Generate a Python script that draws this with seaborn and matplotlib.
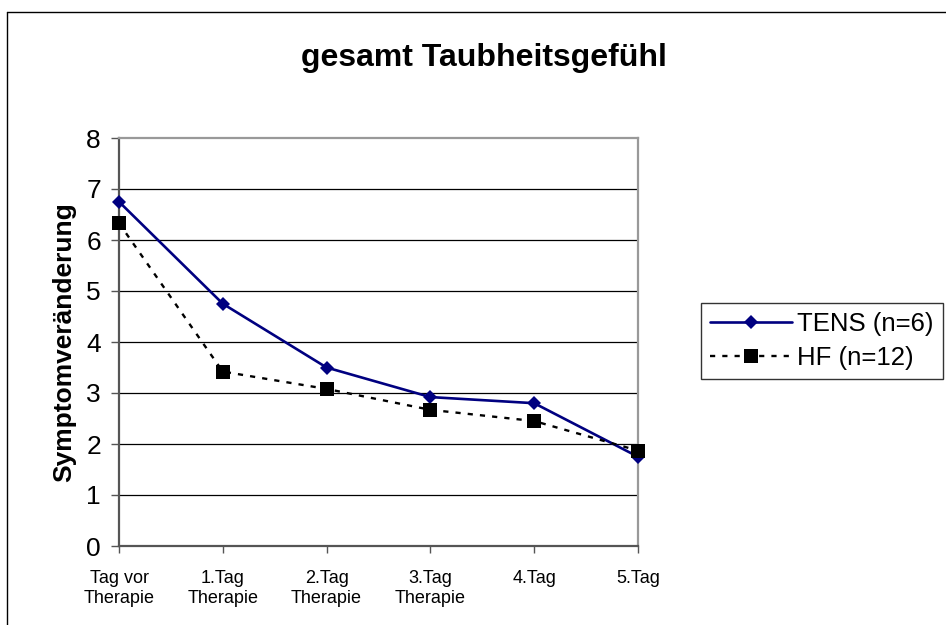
import matplotlib
matplotlib.use("Agg")
import matplotlib.pyplot as plt
import seaborn as sns
import pandas as pd
from matplotlib.lines import Line2D

# Data
categories = ["Tag vor\nTherapie", "1.Tag\nTherapie", "2.Tag\nTherapie",
              "3.Tag\nTherapie", "4.Tag", "5.Tag"]
tens_values = [6.75, 4.75, 3.5, 2.92, 2.8, 1.75]
hf_values = [6.33, 3.42, 3.08, 2.67, 2.45, 1.87]
y_ticks = [0, 1, 2, 3, 4, 5, 6, 7, 8]

sns.set_style("white")
plt.rcParams["font.family"] = ["Liberation Sans", "DejaVu Sans"]
plt.rcParams["text.color"] = "black"
plt.rcParams["axes.labelcolor"] = "black"
plt.rcParams["xtick.color"] = "black"
plt.rcParams["ytick.color"] = "black"

W, H = 946, 625
fig = plt.figure(figsize=(W / 100, H / 100), dpi=100)
ax = fig.add_axes([119 / W, 1 - 546 / H, (638 - 119) / W, (546 - 138) / H])

pos = list(range(len(categories)))
df_tens = pd.DataFrame({"pos": pos, "value": tens_values})
df_hf = pd.DataFrame({"pos": pos, "value": hf_values})

sns.lineplot(data=df_tens, x="pos", y="value", ax=ax, color="#000080",
             linewidth=1.9, marker="D", markersize=7.5, markeredgewidth=0,
             markerfacecolor="#000080", label="TENS (n=6)", clip_on=False,
             zorder=4)
sns.lineplot(data=df_hf, x="pos", y="value", ax=ax, color="black",
             linewidth=1.7, linestyle=(0, (2.2, 3.0)), marker="s",
             markersize=9.5, markeredgewidth=0, markerfacecolor="black",
             label="HF (n=12)", clip_on=False, zorder=5)

ax.set_xlim(0, 5)
ax.set_ylim(0, 8)
ax.set_yticks(y_ticks)
ax.set_yticklabels([str(t) for t in y_ticks], fontsize=19)
ax.set_xticks(pos)
ax.set_xticklabels(categories, fontsize=13, linespacing=1.25)
ax.set_xlabel("")
ax.set_ylabel("Symptomveränderung", fontsize=19, fontweight="bold",
              labelpad=7)

ax.grid(False)
for t in y_ticks[1:-1]:
    ax.axhline(t, color="black", linewidth=0.9, zorder=1)

for side in ["top", "right"]:
    ax.spines[side].set_color("#999999")
    ax.spines[side].set_linewidth(1.6)
for side in ["left", "bottom"]:
    ax.spines[side].set_color("#555555")
    ax.spines[side].set_linewidth(1.6)

ax.tick_params(axis="y", direction="out", length=6, width=1,
               color="#555555", labelcolor="black", pad=7, left=True)
ax.tick_params(axis="x", direction="out", length=5, width=1,
               color="#555555", labelcolor="black", pad=12, bottom=True)

ax.get_legend().remove()
handles, labels = ax.get_legend_handles_labels()
leg = fig.legend(handles, labels, loc="upper left",
                 bbox_to_anchor=(701 / W, 1 - 303 / H),
                 bbox_transform=fig.transFigure, fontsize=18.5,
                 frameon=True, fancybox=False, shadow=False,
                 handlelength=3.2, handletextpad=0.2, borderpad=0.35,
                 labelspacing=0.4, borderaxespad=0)
leg.get_frame().set_edgecolor("black")
leg.get_frame().set_linewidth(1.0)
for txt in leg.get_texts():
    txt.set_color("black")

fig.text(484 / W, 1 - 58 / H, "gesamt Taubheitsgefühl", fontsize=23,
         fontweight="bold", color="black", ha="center", va="center")

# Outer chart frame
fig.add_artist(Line2D([7 / W, 1.0], [1 - 12 / H, 1 - 12 / H],
                      transform=fig.transFigure, color="black", linewidth=1))
fig.add_artist(Line2D([7 / W, 7 / W], [1 - 12 / H, 0.0],
                      transform=fig.transFigure, color="black", linewidth=1))

fig.savefig("out.png", dpi=100)
